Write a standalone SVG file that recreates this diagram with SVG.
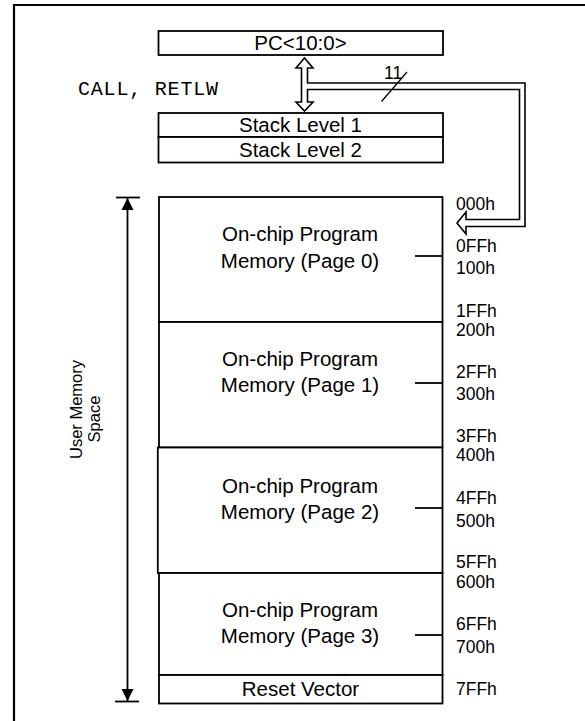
<svg xmlns="http://www.w3.org/2000/svg" width="585" height="721" viewBox="0 0 585 721">
<style>
.box{fill:#fff;stroke:#000;stroke-width:1.8}
.ln{stroke:#000;stroke-width:1.8;fill:none}
.t{font-family:"Liberation Sans",Arial,sans-serif;font-size:20.5px;fill:#000;text-anchor:middle}
.h{font-family:"Liberation Sans",Arial,sans-serif;font-size:17.5px;fill:#000}
.m{font-family:"Liberation Mono","Courier New",monospace;font-size:20px;fill:#000}
</style>
<defs>
<marker id="ah" viewBox="0 0 12 20" refX="12" refY="10" markerWidth="12" markerHeight="20" markerUnits="userSpaceOnUse" orient="auto">
<path d="M0,4 L12,10 L0,16 Z" fill="#000"/>
</marker>
</defs>
<g id="frame">
<path class="ln" d="M14,721 V5 H585" style="stroke-width:2.2"/>
</g>
<g id="pc">
<rect class="box" x="158.5" y="31" width="284.5" height="24"/>
<text class="t" x="300.5" y="50">PC&lt;10:0&gt;</text>
</g>
<g id="stack">
<rect class="box" x="158.5" y="113" width="284.5" height="24"/>
<text class="t" x="300.5" y="132">Stack Level 1</text>
<rect class="box" x="158.5" y="137" width="284.5" height="25.5"/>
<text class="t" x="300.5" y="156.5">Stack Level 2</text>
</g>
<g id="call-label">
<text class="m" x="78" y="95" textLength="140" lengthAdjust="spacing">CALL, RETLW</text>
</g>
<g id="page0">
<rect class="box" x="159" y="197" width="283.5" height="125"/>
<text class="t" x="300" y="241">On-chip Program</text>
<text class="t" x="300" y="268">Memory (Page 0)</text>
<line class="ln" x1="415" y1="256" x2="442.5" y2="256"/>
</g>
<g id="page1">
<rect class="box" x="159" y="322" width="283.5" height="125.5"/>
<text class="t" x="300" y="366">On-chip Program</text>
<text class="t" x="300" y="392">Memory (Page 1)</text>
<line class="ln" x1="415" y1="383" x2="442.5" y2="383"/>
</g>
<g id="page2">
<rect class="box" x="157.8" y="447.5" width="284.7" height="125.5"/>
<text class="t" x="300" y="492.5">On-chip Program</text>
<text class="t" x="300" y="518.5">Memory (Page 2)</text>
<line class="ln" x1="415" y1="508" x2="442.5" y2="508"/>
</g>
<g id="page3">
<rect class="box" x="159" y="573" width="283.5" height="102"/>
<text class="t" x="300" y="617">On-chip Program</text>
<text class="t" x="300" y="643">Memory (Page 3)</text>
<line class="ln" x1="415" y1="635" x2="442.5" y2="635"/>
</g>
<g id="reset">
<rect class="box" x="159" y="675" width="283.5" height="28.5"/>
<text class="t" x="300.5" y="696">Reset Vector</text>
</g>
<g id="addresses">
<text class="h" x="456" y="209.5">000h</text>
<text class="h" x="456" y="252">0FFh</text>
<text class="h" x="456" y="274">100h</text>
<text class="h" x="456" y="317">1FFh</text>
<text class="h" x="456" y="336">200h</text>
<text class="h" x="456" y="378">2FFh</text>
<text class="h" x="456" y="400">300h</text>
<text class="h" x="456" y="442">3FFh</text>
<text class="h" x="456" y="460.5">400h</text>
<text class="h" x="456" y="503.5">4FFh</text>
<text class="h" x="456" y="527">500h</text>
<text class="h" x="456" y="568">5FFh</text>
<text class="h" x="456" y="587.5">600h</text>
<text class="h" x="456" y="629.5">6FFh</text>
<text class="h" x="456" y="653">700h</text>
<text class="h" x="456" y="695">7FFh</text>
</g>
<g id="user-space">
<line class="ln" x1="116" y1="197.5" x2="140" y2="197.5"/>
<line class="ln" x1="115" y1="701.5" x2="139" y2="701.5"/>
<text class="h" style="font-size:16.5px;text-anchor:middle" transform="translate(81.5,409.5) rotate(-90)">User Memory</text>
<text class="h" style="font-size:16.5px;text-anchor:middle" transform="translate(100,419) rotate(-90)">Space</text>
</g>
<g id="connectors">
<line class="ln" x1="127.5" y1="430" x2="127.5" y2="198" marker-end="url(#ah)"/>
<line class="ln" x1="127.5" y1="430" x2="127.5" y2="701" marker-end="url(#ah)"/>
<path class="ln" style="fill:#fff;stroke-width:1.6;stroke-linejoin:miter" d="M304.5,58 L313,68 L307.5,68 L307.5,83 L525,83 L525,226.5 L466,226.5 L466,234 L457,223 L466,212 L466,219.5 L519.5,219.5 L519.5,89.5 L307.5,89.5 L307.5,102 L313,102 L304.5,111 L296,102 L301.5,102 L301.5,68 L296,68 Z"/>
<line class="ln" style="stroke-width:1.3" x1="381.5" y1="101.5" x2="407" y2="72"/>
<text class="h" x="384" y="78.5">11</text>
</g>
</svg>
